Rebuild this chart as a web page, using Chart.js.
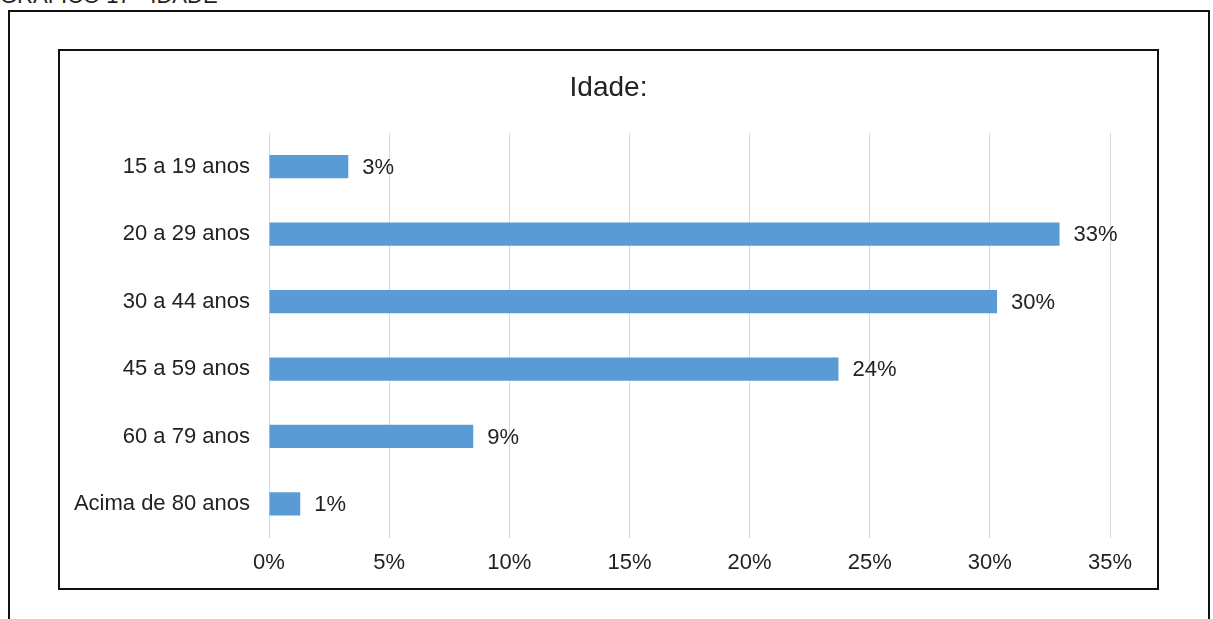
<!DOCTYPE html>
<html>
<head>
<meta charset="utf-8">
<script src="https://cdn.jsdelivr.net/npm/chart.js@4"></script>
<style>
    body { margin: 0; background: #fff; font-family: "Liberation Sans", Arial, sans-serif; overflow: hidden; }
    #caption { position: absolute; left: 0; top: -15px; font-size: 22px; line-height: 22px; color: #222; white-space: nowrap; }
    #outer { position: absolute; left: 8px; top: 10px; width: 1198px; height: 700px; border: 2px solid #111; }
    #inner { position: absolute; left: 58px; top: 49px; width: 1097px; height: 537px; border: 2px solid #111; }
</style>
</head>
<body>
<div id="caption">GRÁFICO 17 - IDADE</div>
<div id="outer"></div>
<div id="inner"><canvas id="idadeChart"></canvas></div>
<script>
const categories = ['15 a 19 anos', '20 a 29 anos', '30 a 44 anos', '45 a 59 anos', '60 a 79 anos', 'Acima de 80 anos'];
const values = [3.3, 32.9, 30.3, 23.7, 8.5, 1.3];
const valueLabels = ['3%', '33%', '30%', '24%', '9%', '1%'];
const xTicks = [0, 5, 10, 15, 20, 25, 30, 35];
const chartTitle = 'Idade:';

const textColor = '#222';
const fontFamily = '"Liberation Sans", Arial, sans-serif';

// título centrado no quadro + etiquetas ao lado das barras
const barLabels = {
    id: 'barLabels',
    afterDatasetsDraw(chart) {
        const ctx = chart.ctx;
        const meta = chart.getDatasetMeta(0);
        ctx.save();
        ctx.font = `22px ${fontFamily}`;
        ctx.fillStyle = textColor;
        ctx.textAlign = 'left';
        ctx.textBaseline = 'middle';
        meta.data.forEach((bar, i) => {
            ctx.fillText(valueLabels[i], bar.x + 14, bar.y + 1);
        });

        ctx.font = `28px ${fontFamily}`;
        ctx.textAlign = 'center';
        ctx.fillText(chartTitle, chart.width / 2, 37);
        ctx.restore();
    }
};

new Chart(document.getElementById('idadeChart'), {
    type: 'bar',
    data: {
        labels: categories,
        datasets: [{
            data: values,
            backgroundColor: '#5B9BD5',
            categoryPercentage: 1,
            barPercentage: 0.345
        }]
    },
    options: {
        indexAxis: 'y',
        responsive: true,
        maintainAspectRatio: false,
        animation: false,
        layout: { padding: { left: 0, right: 47, top: 82, bottom: 0 } },
        plugins: {
            legend: { display: false },
            tooltip: { enabled: false },
            title: { display: false }
        },
        scales: {
            x: {
                min: 0,
                max: 35,
                afterBuildTicks: scale => { scale.ticks = xTicks.map(v => ({ value: v })); },
                ticks: {
                    color: textColor,
                    font: { family: fontFamily, size: 22 },
                    padding: 12,
                    maxRotation: 0,
                    callback: v => v + '%'
                },
                grid: { color: '#d9d9d9', drawTicks: false },
                border: { display: false }
            },
            y: {
                afterFit: scale => { scale.width = 209; },
                ticks: {
                    color: textColor,
                    font: { family: fontFamily, size: 22 },
                    padding: 11
                },
                grid: { display: false },
                border: { display: false }
            }
        }
    },
    plugins: [barLabels]
});
</script>
</body>
</html>
